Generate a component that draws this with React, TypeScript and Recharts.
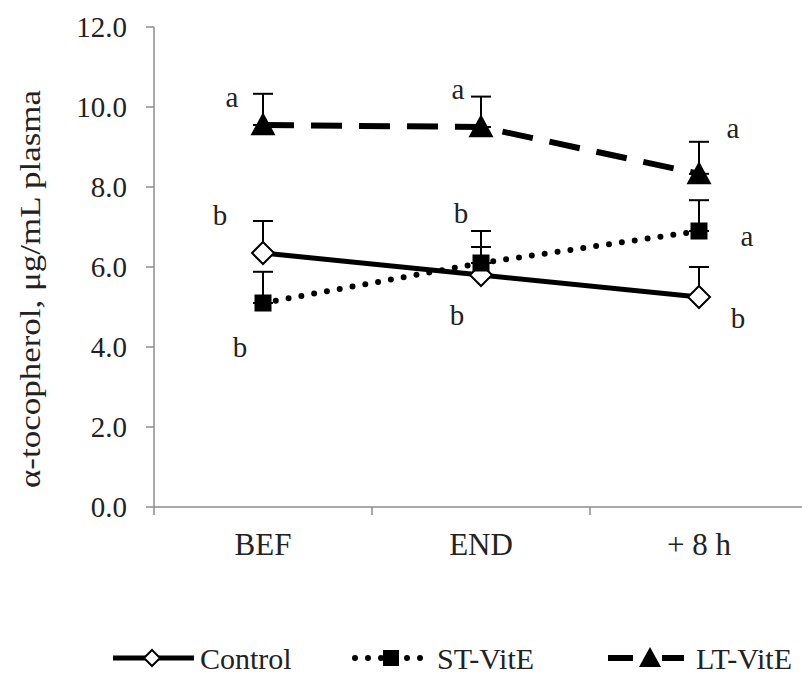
import React from "react";
import {
  LineChart,
  Line,
  XAxis,
  YAxis,
  ErrorBar,
  LabelList,
  Label,
} from "recharts";

const categories = ["BEF", "END", "+ 8 h"];
const seriesNames = ["Control", "ST-VitE", "LT-VitE"];

const controlMean = [6.35, 5.8, 5.25];
const controlErr = [0.8, 0.7, 0.75];
const controlSig = ["b", "b", "b"];

const stMean = [5.1, 6.1, 6.9];
const stErr = [0.78, 0.8, 0.77];
const stSig = ["b", "b", "a"];

const ltMean = [9.55, 9.5, 8.33];
const ltErr = [0.78, 0.76, 0.8];
const ltSig = ["a", "a", "a"];

const yTicks = [0, 2, 4, 6, 8, 10, 12];
const xTicks = [0, 0.5, 1, 1.5, 2, 2.5, 3];

// where each significance letter sits relative to its point (px)
const controlSigOffset = [[-43, -38], [-24, 40], [39, 21]];
const stSigOffset = [[-23, 44], [-20, -50], [48, 5]];
const ltSigOffset = [[-31, -28], [-23, -38], [34, -46]];

const FONT = '"Liberation Serif", "Times New Roman", serif';
const TEXT = "#222";
const AXIS = "#8c8c8c";

const data = categories.map((c, i) => ({
  x: i + 0.5,
  name: c,
  control: controlMean[i],
  controlErr: [0, controlErr[i]],
  controlSig: controlSig[i],
  st: stMean[i],
  stErr: [0, stErr[i]],
  stSig: stSig[i],
  lt: ltMean[i],
  ltErr: [0, ltErr[i]],
  ltSig: ltSig[i],
}));

const Diamond = ({ cx, cy, r = 11 }: any) => (
  <path
    d={`M${cx},${cy - r}L${cx + r},${cy}L${cx},${cy + r}L${cx - r},${cy}Z`}
    fill="#fff"
    stroke="#000"
    strokeWidth={2}
  />
);

const Square = ({ cx, cy, s = 17 }: any) => (
  <rect x={cx - s / 2} y={cy - s / 2} width={s} height={s} fill="#000" />
);

const Triangle = ({ cx, cy, w = 25, h = 23 }: any) => (
  <path
    d={`M${cx},${cy - h * 0.55}L${cx + w / 2},${cy + h * 0.45}L${cx - w / 2},${cy + h * 0.45}Z`}
    fill="#000"
  />
);

const sigLabel = (offsets: number[][]) => (props: any) => {
  const { x, y, index, value } = props;
  const [dx, dy] = offsets[index];
  return (
    <text
      x={x + dx}
      y={y + dy}
      textAnchor="middle"
      dy="0.35em"
      fontFamily={FONT}
      fontSize={29}
      fill={TEXT}
    >
      {value}
    </text>
  );
};

const XTick = (props: any) => {
  const { x, y, payload } = props;
  const v = payload.value;
  if (Number.isInteger(v)) {
    return <line x1={x} y1={y} x2={x} y2={y + 8} stroke={AXIS} strokeWidth={1.5} />;
  }
  return (
    <text
      x={x}
      y={y + 37}
      dy="0.35em"
      textAnchor="middle"
      fontFamily={FONT}
      fontSize={31}
      fill={TEXT}
    >
      {categories[Math.floor(v)]}
    </text>
  );
};

const yLabel = () => (
  <text
    transform="translate(30,289) rotate(-90)"
    textAnchor="middle"
    dy="0.35em"
    fontFamily={FONT}
    fontSize={29}
    fill={TEXT}
    textLength={398}
    lengthAdjust="spacingAndGlyphs"
  >
    α-tocopherol, μg/mL plasma
  </text>
);

function ChartLegend() {
  const cy = 658;
  const txt = { fontFamily: FONT, fontSize: 30, fill: TEXT };
  return (
    <svg width={802} height={679} style={{ position: "absolute", left: 0, top: 0, pointerEvents: "none" }}>
      <line x1={113} y1={cy} x2={194} y2={cy} stroke="#000" strokeWidth={5} />
      <Diamond cx={152} cy={cy} r={8} />
      <text x={200} y={cy} dy="0.35em" {...txt}>
        {seriesNames[0]}
      </text>

      <line x1={355} y1={cy} x2={428} y2={cy} stroke="#000" strokeWidth={6} strokeDasharray="0 13" strokeLinecap="round" />
      <Square cx={391} cy={cy} s={16} />
      <text x={437} y={cy} dy="0.35em" {...txt}>
        {seriesNames[1]}
      </text>

      <line x1={608} y1={cy} x2={633} y2={cy} stroke="#000" strokeWidth={6} />
      <line x1={662} y1={cy} x2={684} y2={cy} stroke="#000" strokeWidth={6} />
      <Triangle cx={650} cy={cy} w={22} h={20} />
      <text x={696} y={cy} dy="0.35em" {...txt}>
        {seriesNames[2]}
      </text>
    </svg>
  );
}

export default function App() {
  return (
    <div
      style={{
        position: "absolute",
        left: 0,
        top: 0,
        width: 802,
        height: 679,
        overflow: "hidden",
        background: "#fff",
      }}
    >
      <LineChart
        width={808}
        height={679}
        data={data}
        margin={{ top: 27, right: 0, left: 0, bottom: 112 }}
      >
        <XAxis
          dataKey="x"
          type="number"
          domain={[0, 3]}
          ticks={xTicks}
          interval={0}
          height={60}
          tickSize={0}
          tickMargin={0}
          tickLine={false}
          tick={<XTick />}
          stroke={AXIS}
          strokeWidth={1.5}
        />
        <YAxis
          type="number"
          domain={[0, 12]}
          ticks={yTicks}
          interval={0}
          width={154}
          tickSize={8}
          tickMargin={19}
          tickFormatter={(v: number) => v.toFixed(1)}
          tick={{ fontFamily: FONT, fontSize: 29, fill: TEXT }}
          stroke={AXIS}
          strokeWidth={1.5}
        >
          <Label content={yLabel} />
        </YAxis>

        <Line
          dataKey="control"
          name={seriesNames[0]}
          stroke="#000"
          strokeWidth={5}
          isAnimationActive={false}
          dot={(p: any) => <Diamond key={p.index} cx={p.cx} cy={p.cy} />}
          activeDot={false}
        >
          <ErrorBar dataKey="controlErr" direction="y" width={10} stroke="#000" strokeWidth={2} />
          <LabelList dataKey="controlSig" content={sigLabel(controlSigOffset)} />
        </Line>

        <Line
          dataKey="st"
          name={seriesNames[1]}
          stroke="#000"
          strokeWidth={6}
          strokeDasharray="0 13"
          strokeLinecap="round"
          isAnimationActive={false}
          dot={(p: any) => <Square key={p.index} cx={p.cx} cy={p.cy} />}
          activeDot={false}
        >
          <ErrorBar dataKey="stErr" direction="y" width={10} stroke="#000" strokeWidth={2} />
          <LabelList dataKey="stSig" content={sigLabel(stSigOffset)} />
        </Line>

        <Line
          dataKey="lt"
          name={seriesNames[2]}
          stroke="#000"
          strokeWidth={6}
          strokeDasharray="31 17"
          isAnimationActive={false}
          dot={(p: any) => <Triangle key={p.index} cx={p.cx} cy={p.cy} />}
          activeDot={false}
        >
          <ErrorBar dataKey="ltErr" direction="y" width={10} stroke="#000" strokeWidth={2} />
          <LabelList dataKey="ltSig" content={sigLabel(ltSigOffset)} />
        </Line>
      </LineChart>
      <ChartLegend />
    </div>
  );
}
